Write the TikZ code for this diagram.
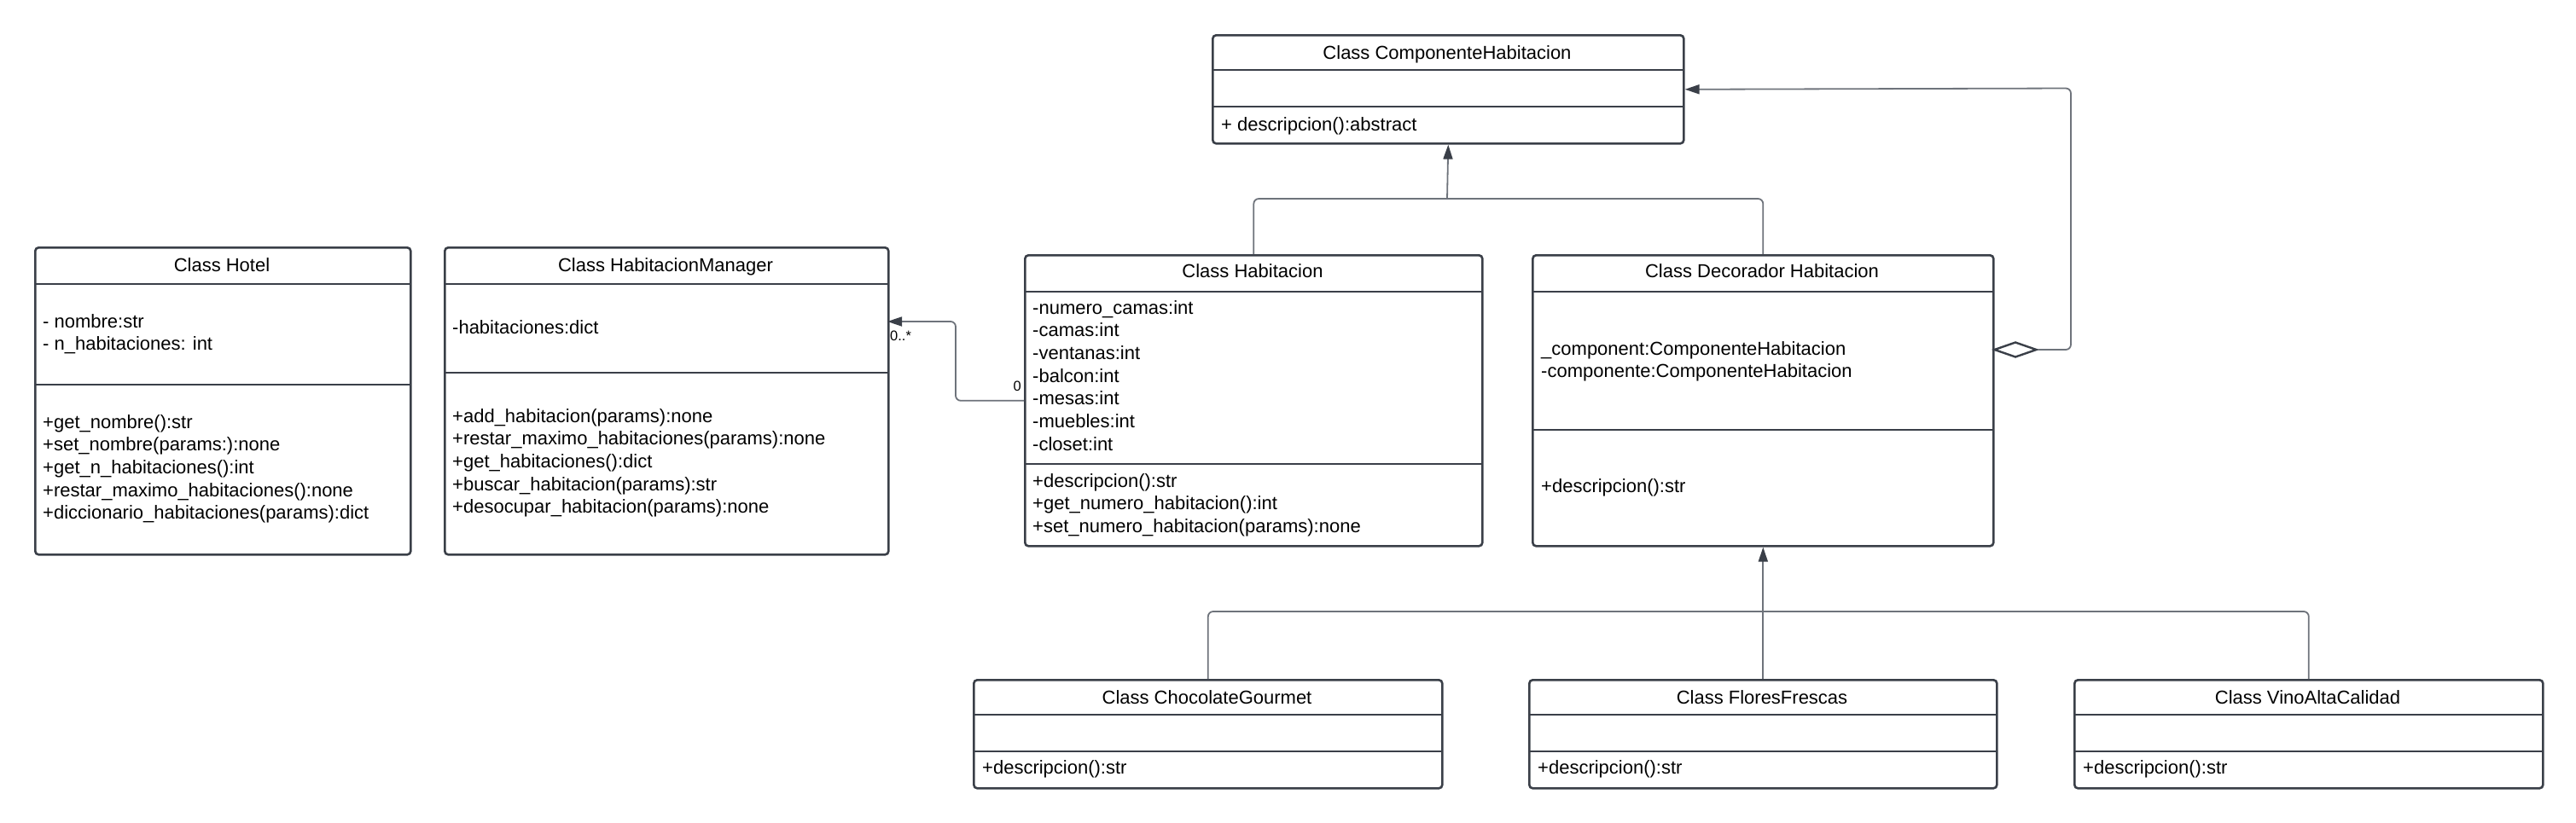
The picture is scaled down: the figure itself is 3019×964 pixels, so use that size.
\documentclass[tikz,border=0pt]{standalone}
\usepackage{fontspec}
\setmainfont{Liberation Sans}
\usetikzlibrary{arrows.meta,shapes.geometric}
\definecolor{boxc}{HTML}{3A3F48}
\definecolor{linec}{HTML}{6E737B}
\definecolor{arrc}{HTML}{3A3F48}
\begin{document}
\begin{tikzpicture}[x=1pt,y=-1pt,
  box/.style={draw=boxc,line width=2.6pt,rounded corners=4pt,anchor=north west,inner sep=0pt,fill=white},
  sepl/.style={draw=boxc,line width=2.6pt},
  txt/.style={font=\fontsize{22}{26.7}\selectfont,inner sep=0pt,anchor=base west,text=black},
  ttl/.style={font=\fontsize{22}{26.7}\selectfont,inner sep=0pt,anchor=base,text=black},
  lbl/.style={font=\fontsize{16.5}{20}\selectfont,inner sep=0pt,text=black},
  conn/.style={draw=linec,line width=1.8pt,rounded corners=6pt},
  tip/.style={-{Triangle[length=17pt,width=11pt,color=arrc]}}
]
\useasboundingbox (0,0) rectangle (3019,964);

% ---------- Hotel ----------
\node[box,minimum width=440pt,minimum height=360pt] (hotel) at (40,289) {};
\draw[sepl] (40,333) -- (480,333);
\draw[sepl] (40,451) -- (480,451);
\node[ttl] (hotelT) at (260,318) {Class Hotel};
\foreach \t [count=\i from 0] in {{- nombre:str},{- n\_habitaciones: int}}
  \node[txt] (hotA\i) at (50,384+26.7*\i) {\t};
\foreach \t [count=\i from 0] in {{+get\_nombre():str},{+set\_nombre(params:):none},{+get\_n\_habitaciones():int},{+restar\_maximo\_habitaciones():none},{+diccionario\_habitaciones(params):dict}}
  \node[txt] (hotM\i) at (50,502+26.7*\i) {\t};

% ---------- HabitacionManager ----------
\node[box,minimum width=520pt,minimum height=360pt] (hm) at (520,289) {};
\draw[sepl] (520,333) -- (1040,333);
\draw[sepl] (520,437) -- (1040,437);
\node[ttl] (hmT) at (780,318) {Class HabitacionManager};
\node[txt] (hmA0) at (530,391) {-habitaciones:dict};
\foreach \t [count=\i from 0] in {{+add\_habitacion(params):none},{+restar\_maximo\_habitaciones(params):none},{+get\_habitaciones():dict},{+buscar\_habitacion(params):str},{+desocupar\_habitacion(params):none}}
  \node[txt] (hmM\i) at (530,495+26.7*\i) {\t};

% ---------- ComponenteHabitacion ----------
\node[box,minimum width=552pt,minimum height=127pt] (ch) at (1420,40) {};
\draw[sepl] (1420,82) -- (1972,82);
\draw[sepl] (1420,125) -- (1972,125);
\node[ttl] (chT) at (1696,69) {Class ComponenteHabitacion};
\node[txt] (chM0) at (1431,153) {+ descripcion():abstract};

% ---------- Habitacion ----------
\node[box,minimum width=536pt,minimum height=341pt] (hab) at (1200,298) {};
\draw[sepl] (1200,342) -- (1736,342);
\draw[sepl] (1200,544) -- (1736,544);
\node[ttl] (habT) at (1468,325) {Class Habitacion};
\foreach \t [count=\i from 0] in {{-numero\_camas:int},{-camas:int},{-ventanas:int},{-balcon:int},{-mesas:int},{-muebles:int},{-closet:int}}
  \node[txt] (habA\i) at (1210,368+26.7*\i) {\t};
\foreach \t [count=\i from 0] in {{+descripcion():str},{+get\_numero\_habitacion():int},{+set\_numero\_habitacion(params):none}}
  \node[txt] (habM\i) at (1210,571+26.7*\i) {\t};

% ---------- Decorador Habitacion ----------
\node[box,minimum width=540pt,minimum height=341pt] (dec) at (1795,298) {};
\draw[sepl] (1795,342) -- (2335,342);
\draw[sepl] (1795,504) -- (2335,504);
\node[ttl] (decT) at (2065,325) {Class Decorador Habitacion};
\node[txt] (decA0) at (1806,416) {\_component:ComponenteHabitacion};
\node[txt] (decA1) at (1806,442.7) {-componente:ComponenteHabitacion};
\node[txt] (decM0) at (1806,577) {+descripcion():str};

% ---------- Bottom decorators ----------
\node[box,minimum width=549pt,minimum height=127pt] (choc) at (1140,796) {};
\draw[sepl] (1140,838) -- (1689,838);
\draw[sepl] (1140,881) -- (1689,881);
\node[ttl] (chocT) at (1414.5,825) {Class ChocolateGourmet};
\node[txt] (chocM) at (1151,907) {+descripcion():str};

\node[box,minimum width=548pt,minimum height=127pt] (flor) at (1791,796) {};
\draw[sepl] (1791,838) -- (2339,838);
\draw[sepl] (1791,881) -- (2339,881);
\node[ttl] (florT) at (2065,825) {Class FloresFrescas};
\node[txt] (florM) at (1802,907) {+descripcion():str};

\node[box,minimum width=549pt,minimum height=127pt] (vino) at (2430,796) {};
\draw[sepl] (2430,838) -- (2979,838);
\draw[sepl] (2430,881) -- (2979,881);
\node[ttl] (vinoT) at (2704.5,825) {Class VinoAltaCalidad};
\node[txt] (vinoM) at (2441,907) {+descripcion():str};

% ---------- Connectors ----------
% Habitacion / Decorador -> ComponenteHabitacion
\coordinate (inhJ) at (1696,233);
\draw[conn] (hab.north) |- (inhJ);
\draw[conn] (dec.north) |- (inhJ);
\draw[conn,tip] (inhJ) -- (ch.south);

% Decorators -> Decorador Habitacion
\coordinate (decJ) at (2065,717);
\draw[conn] (choc.north) |- (decJ);
\draw[conn] (vino.north) |- (decJ);
\draw[conn,tip] (flor.north) -- (dec.south);

% Aggregation Decorador -> ComponenteHabitacion
\node[draw=boxc,line width=2.4pt,diamond,aspect=2.8,minimum width=50pt,minimum height=18pt,inner sep=0pt,fill=white] (agg) at (2362,410) {};
\coordinate (aggC) at (2427,103.5);
\draw[conn,tip] (agg.east) -| (aggC) -- (ch.east);

% Habitacion -> HabitacionManager
\coordinate (hmIn) at (1040,377);
\draw[conn,tip] (hab.west) -- ++(-80,0) |- (hmIn);
\node[lbl,anchor=west] (lblMany) at (1043,394) {0..*};
\node[lbl,anchor=east] (lblOne) at (1197,453) {0};
\end{tikzpicture}
\end{document}
